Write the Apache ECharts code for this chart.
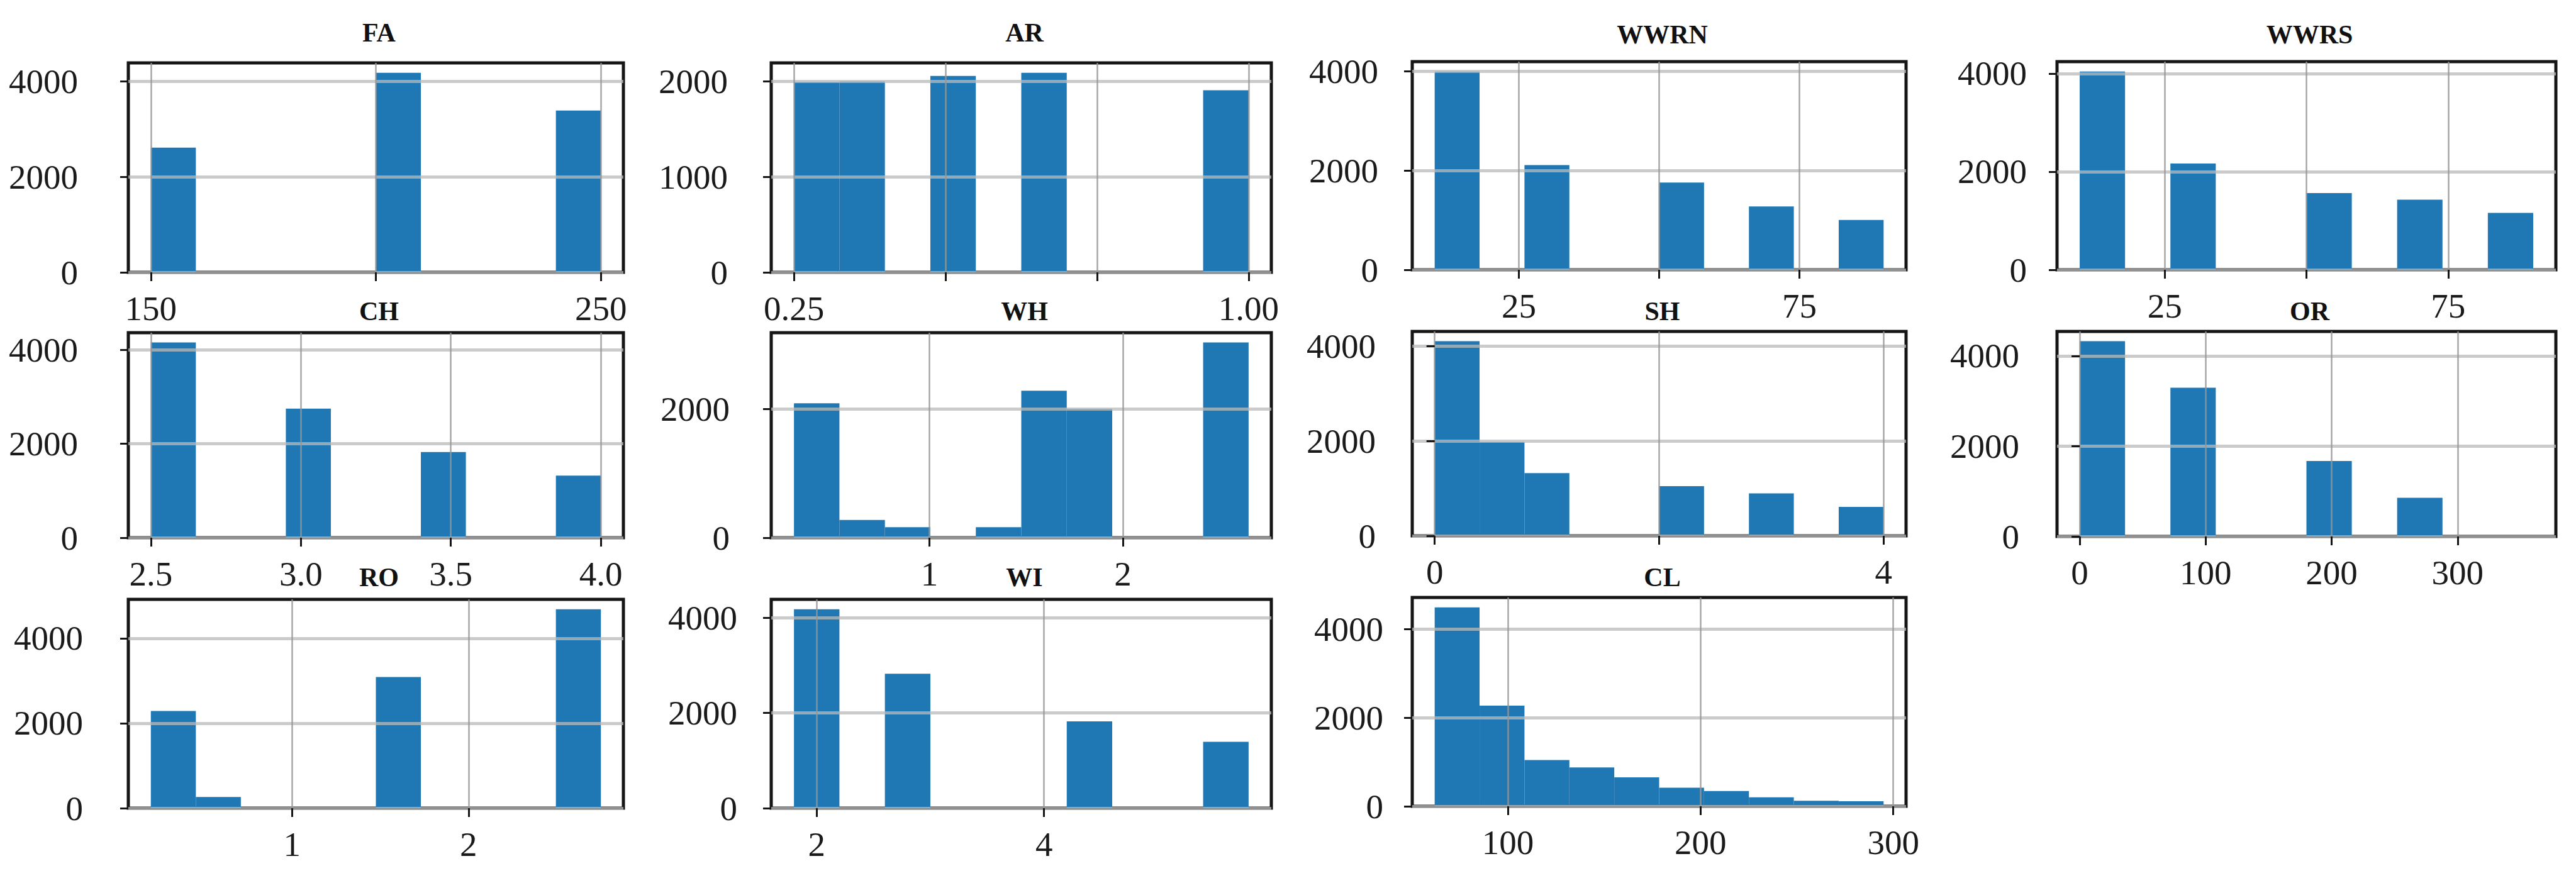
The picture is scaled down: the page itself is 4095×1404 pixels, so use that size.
<!DOCTYPE html>
<html><head><meta charset="utf-8">
<script src="https://cdn.jsdelivr.net/npm/echarts@6/dist/echarts.min.js"></script>
<style>
html,body{margin:0;padding:0;background:#fff;overflow:hidden;}
#chart{width:4095px;height:1404px;}
</style></head><body>
<div id="chart"></div>
<script>
// ---- data (histogram counts per bin, 10 equal bins between range[0] and range[1]) ----
const names = ['FA','AR','WWRN','WWRS','CH','WH','SH','OR','RO','WI','CL'];

const range_FA = [150, 250];
const counts_FA = [2610, 0, 0, 0, 0, 4175, 0, 0, 0, 3387];
const ticks_FA = [150, 200, 250];
const labels_FA = [150, 250];

const range_AR = [0.25, 1.0];
const counts_AR = [1995, 2000, 0, 2057, 0, 2090, 0, 0, 0, 1908];
const ticks_AR = [0.25, 0.5, 0.75, 1.0];
const labels_AR = [0.25, 1.0];

const range_WWRN = [10, 90];
const counts_WWRN = [3996, 0, 2110, 0, 0, 1758, 0, 1278, 0, 1006];
const ticks_WWRN = [25, 50, 75];
const labels_WWRN = [25, 75];

const range_WWRS = [10, 90];
const counts_WWRS = [4040, 0, 2165, 0, 0, 1565, 0, 1430, 0, 1160];
const ticks_WWRS = [25, 50, 75];
const labels_WWRS = [25, 75];

const range_CH = [2.5, 4.0];
const counts_CH = [4160, 0, 0, 2750, 0, 0, 1825, 0, 0, 1323];
const ticks_CH = [2.5, 3.0, 3.5, 4.0];
const labels_CH = [2.5, 3.0, 3.5, 4.0];

const range_WH = [0.3, 2.65];
const counts_WH = [2088, 277, 163, 0, 163, 2284, 2000, 0, 0, 3034];
const ticks_WH = [1, 2];
const labels_WH = [1, 2];

const range_SH = [0, 4];
const counts_SH = [4100, 1978, 1322, 0, 0, 1046, 0, 893, 0, 608];
const ticks_SH = [0, 2, 4];
const labels_SH = [0, 4];

const range_OR = [0, 360];
const counts_OR = [4327, 0, 3297, 0, 0, 1673, 0, 857, 0, 0];
const ticks_OR = [0, 100, 200, 300];
const labels_OR = [0, 100, 200, 300];

const range_RO = [0.2, 2.75];
const counts_RO = [2286, 262, 0, 0, 0, 3086, 0, 0, 0, 4681];
const ticks_RO = [1, 2];
const labels_RO = [1, 2];

const range_WI = [1.8, 5.8];
const counts_WI = [4176, 0, 2822, 0, 0, 0, 1824, 0, 0, 1393];
const ticks_WI = [2, 4];
const labels_WI = [2, 4];

const range_CL = [62, 295];
const counts_CL = [4486, 2269, 1042, 877, 651, 420, 344, 203, 123, 113];
const ticks_CL = [100, 200, 300];
const labels_CL = [100, 200, 300];

const yTicks_4000 = [0, 2000, 4000];
const yTicks_AR = [0, 1000, 2000];
const yTicks_WH = [0, 2000];

const panels = [
  {name:'FA', range:range_FA, counts:counts_FA, ticks:ticks_FA, labels:labels_FA, yTicks:yTicks_4000},
  {name:'AR', range:range_AR, counts:counts_AR, ticks:ticks_AR, labels:labels_AR, yTicks:yTicks_AR},
  {name:'WWRN', range:range_WWRN, counts:counts_WWRN, ticks:ticks_WWRN, labels:labels_WWRN, yTicks:yTicks_4000},
  {name:'WWRS', range:range_WWRS, counts:counts_WWRS, ticks:ticks_WWRS, labels:labels_WWRS, yTicks:yTicks_4000},
  {name:'CH', range:range_CH, counts:counts_CH, ticks:ticks_CH, labels:labels_CH, yTicks:yTicks_4000},
  {name:'WH', range:range_WH, counts:counts_WH, ticks:ticks_WH, labels:labels_WH, yTicks:yTicks_WH},
  {name:'SH', range:range_SH, counts:counts_SH, ticks:ticks_SH, labels:labels_SH, yTicks:yTicks_4000},
  {name:'OR', range:range_OR, counts:counts_OR, ticks:ticks_OR, labels:labels_OR, yTicks:yTicks_4000},
  {name:'RO', range:range_RO, counts:counts_RO, ticks:ticks_RO, labels:labels_RO, yTicks:yTicks_4000},
  {name:'WI', range:range_WI, counts:counts_WI, ticks:ticks_WI, labels:labels_WI, yTicks:yTicks_4000},
  {name:'CL', range:range_CL, counts:counts_CL, ticks:ticks_CL, labels:labels_CL, yTicks:yTicks_4000}
];

// ---- layout (screen pixels: left, top, right, bottom, title centre y, y-label gap) ----
const boxes = [
  [204,100,991,433,47,80],[1226,100,2021,433,47,69],[2245,98,3030,429,50,54],[3270,98,4063,429,50,48],
  [204,529,991,855,490,80],[1226,529,2021,855,490,66],[2245,527,3030,852,490,58],[3270,527,4063,853,490,60],
  [204,953,991,1285,913,72],[1226,953,2021,1285,913,54],[2245,950,3030,1282,913,46]
];
const FONT = "'Liberation Serif', 'DejaVu Serif', serif";

const grid = [], xAxis = [], yAxis = [], series = [], title = [];
panels.forEach((p, i) => {
  const [L, T, R, B, ty, gap] = boxes[i];
  const lo = p.range[0], hi = p.range[1], n = p.counts.length;
  const w = (hi - lo) / n;
  const span = hi - lo;
  const ymax = Math.max.apply(null, p.counts) * 1.05;
  grid.push({left: L, top: T, width: R - L, height: B - T, show: true,
    borderColor: '#151515', borderWidth: 5, backgroundColor: 'transparent',
    containLabel: false, outerBoundsMode: 'none'});
  title.push({text: p.name, left: (L + R) / 2, top: ty, textAlign: 'center', textVerticalAlign: 'middle',
    textStyle: {fontFamily: FONT, fontWeight: 'bold', fontSize: 42, color: '#111'}});
  xAxis.push({type: 'value', gridIndex: i, min: lo - 0.05 * span, max: hi + 0.05 * span, z: 10,
    axisLine: {show: false, onZero: false},
    axisTick: {show: true, customValues: p.ticks, length: 14, lineStyle: {color: '#151515', width: 3}},
    axisLabel: {show: true, customValues: p.labels, margin: 30, fontFamily: FONT, fontSize: 55, color: '#1a1a1a',
      formatter: v => (p.name === 'AR') ? v.toFixed(2) : (p.name === 'CH' ? v.toFixed(1) : String(v))},
    splitLine: {show: true, lineStyle: {color: 'rgba(150,150,150,0.85)', width: 2.5}}});
  yAxis.push({type: 'value', gridIndex: i, min: 0, max: ymax, z: 10,
    axisLine: {show: false},
    axisTick: {show: true, customValues: p.yTicks, length: 13, lineStyle: {color: '#151515', width: 3}},
    axisLabel: {show: true, customValues: p.yTicks, margin: gap, fontFamily: FONT, fontSize: 55, color: '#1a1a1a',
      formatter: v => String(v)},
    splitLine: {show: true, lineStyle: {color: 'rgba(185,185,185,0.75)', width: 5}}});
  const data = p.counts.map((c, k) => [lo + k * w, lo + (k + 1) * w, c]);
  series.push({type: 'custom', xAxisIndex: i, yAxisIndex: i, z: 2, silent: true,
    encode: {x: [0, 1], y: 2}, data: data,
    renderItem: function (params, api) {
      const a = api.coord([api.value(0), api.value(2)]);
      const b = api.coord([api.value(1), 0]);
      return {type: 'rect', shape: {x: a[0], y: a[1], width: b[0] - a[0], height: b[1] - a[1]},
        style: {fill: '#1f77b4'}};
    }});
});

const chart = echarts.init(document.getElementById('chart'), null, {renderer: 'svg'});
chart.setOption({animation: false, backgroundColor: '#fff', title, grid, xAxis, yAxis, series});
</script>
</body></html>
